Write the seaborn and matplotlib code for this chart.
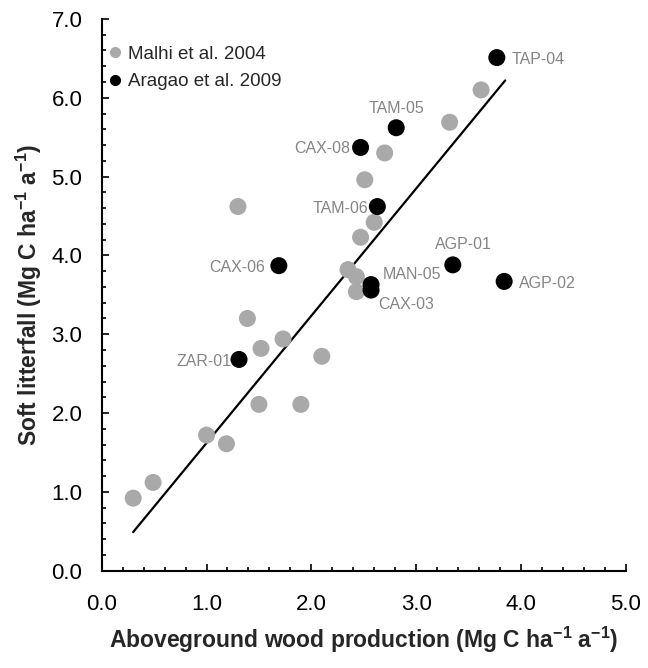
import numpy as np
import pandas as pd
import matplotlib
matplotlib.use("Agg")
import matplotlib.pyplot as plt
from matplotlib.ticker import MultipleLocator, FormatStrFormatter
from matplotlib.lines import Line2D
import seaborn as sns

# ---- data ----
malhi_x = [0.30, 0.49, 1.00, 1.19, 1.50, 1.90, 1.39, 1.52, 1.73, 2.10,
           1.30, 3.62, 3.32, 2.70, 2.51, 2.60, 2.47, 2.35, 2.43, 2.43]
malhi_y = [0.92, 1.12, 1.72, 1.61, 2.11, 2.11, 3.20, 2.82, 2.94, 2.72,
           4.62, 6.10, 5.69, 5.30, 4.96, 4.42, 4.23, 3.82, 3.73, 3.54]

aragao_sites = ["TAP-04", "TAM-05", "CAX-08", "TAM-06", "CAX-06", "ZAR-01",
                "MAN-05", "CAX-03", "AGP-01", "AGP-02"]
aragao_x = [3.77, 2.81, 2.47, 2.63, 1.69, 1.31, 2.57, 2.57, 3.35, 3.84]
aragao_y = [6.51, 5.62, 5.37, 4.62, 3.87, 2.68, 3.63, 3.56, 3.88, 3.67]

fit_x = [0.30, 3.85]
fit_y = [0.49, 6.22]

series_names = ["Malhi et al. 2004", "Aragao et al. 2009"]

x_label = "Aboveground wood production (Mg C ha$^{\\mathbf{-1}}$ a$^{\\mathbf{-1}}$)"
y_label = "Soft litterfall (Mg C ha$^{\\mathbf{-1}}$ a$^{\\mathbf{-1}}$)"

# ---- style ----
sns.set_theme(style="ticks")
plt.rcParams["font.family"] = ["Liberation Sans", "DejaVu Sans"]
plt.rcParams["mathtext.fontset"] = "custom"
plt.rcParams["mathtext.rm"] = "Liberation Sans"
plt.rcParams["mathtext.bf"] = "Liberation Sans:bold"

GRAY = "#a9a9a9"
LABEL_GRAY = "#858585"

df = pd.DataFrame({
    "x": malhi_x + aragao_x,
    "y": malhi_y + aragao_y,
    "source": [series_names[0]] * len(malhi_x) + [series_names[1]] * len(aragao_x),
})

fig = plt.figure(figsize=(6.48, 6.68), dpi=100)
ax = fig.add_axes([0.157, 0.1457, 0.8086, 0.8259])

sns.scatterplot(data=df, x="x", y="y", hue="source",
                palette={series_names[0]: GRAY, series_names[1]: "black"},
                s=150, linewidth=0, ax=ax, legend=False, zorder=3)
sns.lineplot(x=fit_x, y=fit_y, color="black", linewidth=1.6, ax=ax, zorder=2)

# site labels (offsets in pixels: dx, dy, ha, va)
offsets = {
    "TAP-04": (15, 0, "left", "center_baseline"),
    "TAM-05": (0, 21, "center", "center_baseline"),
    "CAX-08": (-10, 0, "right", "center_baseline"),
    "TAM-06": (-9, 0, "right", "center_baseline"),
    "CAX-06": (-14, 0, "right", "center_baseline"),
    "ZAR-01": (-8, -1, "right", "center_baseline"),
    "MAN-05": (12, 12, "left", "center_baseline"),
    "CAX-03": (7, -13, "left", "center_baseline"),
    "AGP-01": (11, 22, "center", "center_baseline"),
    "AGP-02": (15, -1, "left", "center_baseline"),
}
for site, sx, sy in zip(aragao_sites, aragao_x, aragao_y):
    dx, dy, ha, va = offsets[site]
    ax.annotate(site, (sx, sy), xytext=(dx, dy), textcoords="offset pixels",
                ha=ha, va=va, fontsize=11.5, color=LABEL_GRAY)

# legend
handles = [Line2D([], [], marker="o", linestyle="", color=GRAY, markersize=7),
           Line2D([], [], marker="o", linestyle="", color="black", markersize=7)]
leg = ax.legend(handles, series_names, loc="upper left", bbox_to_anchor=(-0.01, 0.965),
                frameon=False, fontsize=13.5, handletextpad=0.1, handlelength=1.2,
                labelspacing=0.55, borderaxespad=0)

ax.set_xlim(0, 5)
ax.set_ylim(0, 7)
ax.xaxis.set_major_locator(MultipleLocator(1))
ax.xaxis.set_minor_locator(MultipleLocator(0.2))
ax.yaxis.set_major_locator(MultipleLocator(1))
ax.yaxis.set_minor_locator(MultipleLocator(0.2))
ax.xaxis.set_major_formatter(FormatStrFormatter("%.1f"))
ax.yaxis.set_major_formatter(FormatStrFormatter("%.1f"))

ax.tick_params(axis="both", which="major", direction="in", length=5, width=1.2,
               labelsize=16, color="black", labelcolor="black")
ax.tick_params(axis="both", which="minor", direction="in", length=3, width=1.2,
               color="black")
ax.tick_params(axis="x", which="major", pad=17)
ax.tick_params(axis="y", which="major", pad=14)

for side in ["top", "right"]:
    ax.spines[side].set_visible(False)
for side in ["left", "bottom"]:
    ax.spines[side].set_linewidth(1.5)
    ax.spines[side].set_color("black")

ax.set_xlabel(x_label, fontsize=16.5, fontweight="bold", labelpad=7)
ax.set_ylabel(y_label, fontsize=16.5, fontweight="bold", labelpad=5)

fig.savefig("out.png", dpi=100)
